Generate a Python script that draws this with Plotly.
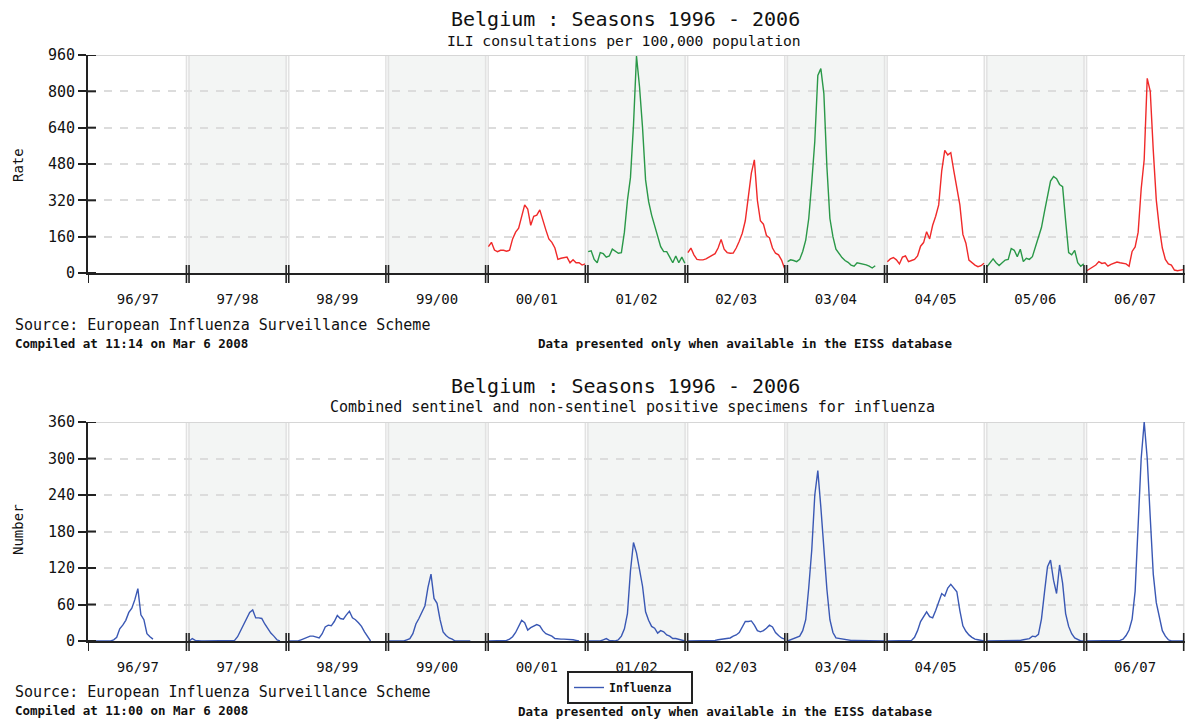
import plotly.graph_objects as go

# ---------------- data ----------------
seasons = ["96/97", "97/98", "98/99", "99/00", "00/01", "01/02",
           "02/03", "03/04", "04/05", "05/06", "06/07"]
WEEKS = 33  # weeks 40 .. 20 of each season

# ILI consultations per 100,000 (top chart), per season
ili_0001 = [116, 135, 101, 94, 100, 100, 96, 100, 150, 180, 197, 245, 300, 282, 210, 250, 255,
            278, 230, 190, 150, 135, 110, 60, 65, 66, 70, 45, 58, 45, 45, 35, 40]
ili_0102 = [94, 98, 60, 45, 90, 85, 70, 75, 105, 95, 87, 90, 180, 320, 420, 650, 955, 820,
            640, 410, 315, 255, 210, 165, 116, 94, 94, 70, 45, 75, 45, 70, 43]
ili_0203 = [90, 110, 80, 60, 58, 58, 62, 72, 78, 85, 110, 148, 105, 90, 87, 88, 110, 140,
            175, 230, 330, 440, 498, 320, 230, 215, 165, 155, 110, 87, 80, 57, 20]
ili_0304 = [50, 58, 55, 50, 60, 95, 145, 240, 400, 580, 870, 900, 790, 468, 240, 160, 105,
            85, 68, 55, 47, 35, 30, 45, 42, 40, 36, 30, 22, 32]
ili_0405 = [50, 62, 68, 58, 40, 70, 75, 50, 55, 60, 75, 118, 134, 182, 150, 210, 250, 300,
            450, 540, 520, 530, 450, 380, 300, 170, 131, 57, 45, 35, 28, 32, 43]
ili_0506 = [28, 43, 62, 45, 33, 45, 57, 60, 108, 100, 72, 105, 50, 65, 60, 72, 115, 150,
            200, 270, 336, 405, 425, 415, 390, 380, 230, 90, 80, 100, 45, 30, 40]
ili_0607 = [10, 18, 25, 35, 50, 42, 45, 30, 38, 42, 48, 45, 42, 40, 30, 95, 115, 180, 370,
            500, 857, 800, 540, 321, 200, 110, 60, 40, 35, 13, 10, 14, 15]
ili_labels = ["00/01", "01/02", "02/03", "03/04", "04/05", "05/06", "06/07"]
ili_series = [ili_0001, ili_0102, ili_0203, ili_0304, ili_0405, ili_0506, ili_0607]
ili_colors = ["#f02a2a", "#2a9848", "#f02a2a", "#2a9848", "#f02a2a", "#2a9848", "#f02a2a"]

# positive specimens for influenza (bottom chart), per season
flu_9697 = [0, 0, 0, 0, 0, 0, 0, 0, 2, 6, 20, 26, 34, 47, 54, 68, 86, 43, 35, 12, 7, 3]
flu_9798 = [0, 4, 1, 0, 0, 0, 0, 0, 0, 0, 0, 0, 0, 0, 0, 1, 7, 17, 26, 37, 47, 51, 38, 38,
            37, 28, 20, 13, 8, 2, 0]
flu_9899 = [0, 0, 0, 0, 2, 4, 6, 8, 8, 7, 5, 12, 23, 26, 25, 32, 42, 37, 36, 43, 49, 38, 35,
            30, 24, 15, 7, 0]
flu_9900 = [0, 0, 0, 0, 0, 0, 2, 4, 12, 28, 37, 47, 58, 88, 110, 70, 62, 35, 15, 9, 5, 3, 0,
            0, 0, 0, 0, 0]
flu_0001 = [0, 0, 0, 1, 1, 1, 1, 3, 7, 14, 25, 34, 30, 18, 22, 24, 27, 25, 17, 12, 10, 8, 4,
            3, 3, 3, 3, 2, 2, 1, 0]
flu_0102 = [0, 0, 0, 0, 0, 2, 4, 1, 0, 0, 2, 8, 20, 45, 115, 162, 145, 118, 90, 48, 34, 24,
            21, 13, 17, 15, 10, 8, 4, 4, 3, 1, 0]
flu_0203 = [0, 0, 0, 0, 0, 0, 0, 0, 0, 1, 2, 3, 4, 4, 5, 8, 10, 14, 22, 32, 32, 33, 26, 17,
            15, 17, 21, 26, 23, 14, 9, 5, 3]
flu_0304 = [0, 2, 4, 6, 8, 17, 35, 88, 150, 240, 280, 220, 150, 85, 35, 14, 5, 4, 3, 3, 2,
            1, 1, 1, 1, 1, 0, 0, 0, 0, 0, 0, 0]
flu_0405 = [0, 0, 0, 0, 0, 0, 1, 1, 1, 6, 17, 32, 40, 48, 40, 38, 50, 63, 78, 74, 87, 93, 86,
            81, 50, 25, 16, 10, 6, 3, 2, 1, 0]
flu_0506 = [0, 0, 0, 0, 0, 0, 0, 0, 0, 0, 0, 1, 2, 3, 4, 8, 7, 11, 36, 80, 122, 133, 100, 78,
            125, 95, 45, 24, 12, 5, 2, 0, 0]
flu_0607 = [0, 0, 0, 0, 0, 1, 0, 0, 1, 1, 1, 1, 3, 9, 18, 36, 82, 180, 300, 360, 300, 203,
            110, 63, 37, 17, 8, 2, 0, 0, 0, 0, 0]
flu_series = [flu_9697, flu_9798, flu_9899, flu_9900, flu_0001, flu_0102, flu_0203,
              flu_0304, flu_0405, flu_0506, flu_0607]

ili_ticks = [0, 160, 320, 480, 640, 800, 960]
flu_ticks = [0, 60, 120, 180, 240, 300, 360]
shaded = ["97/98", "99/00", "01/02", "03/04", "05/06"]

# ---------------- layout geometry (pixels) ----------------
W, H = 1194, 720
PX0, PX1 = 88, 1185
TOP = (55, 273)
BOT = (422, 641)
FONT = "DejaVu Sans Mono"
INK = "#222222"


def fy(p):
    return 1 - p / H


def fx(p):
    return p / W


week_px = (PX1 - PX0) / (len(seasons) * WEEKS)
off = 1.3 / week_px  # half gap of the double boundary lines, in x units

fig = go.Figure()

for lab, vals, col in zip(ili_labels, ili_series, ili_colors):
    s = seasons.index(lab)
    xs = [s * WEEKS + k + 0.5 for k in range(len(vals))]
    fig.add_trace(go.Scatter(x=xs, y=vals, mode="lines", xaxis="x", yaxis="y",
                             line=dict(color=col, width=1.4), showlegend=False,
                             hoverinfo="skip"))

bx, by = [], []
for s, vals in enumerate(flu_series):
    bx += [s * WEEKS + k + 0.5 for k in range(len(vals))] + [None]
    by += list(vals) + [None]
fig.add_trace(go.Scatter(x=bx, y=by, mode="lines", xaxis="x2", yaxis="y2",
                         line=dict(color="#3a58b4", width=1.4),
                         name="<b>Influenza</b>&nbsp;&nbsp;",
                         showlegend=True, hoverinfo="skip", connectgaps=False))

centers = [s * WEEKS + WEEKS / 2 for s in range(len(seasons))]
xr = [0, len(seasons) * WEEKS]

xcommon = dict(range=xr, tickvals=centers, ticktext=seasons, ticks="outside",
               ticklen=12, tickcolor="rgba(0,0,0,0)", showgrid=False, showline=True,
               linecolor=INK, linewidth=2, zeroline=False, fixedrange=True,
               automargin=False,
               tickfont=dict(family=FONT, size=14, color="#111"),
               domain=[fx(PX0), fx(PX1)])
ycommon = dict(ticks="outside", ticklen=8, tickwidth=2, tickcolor=INK, showline=True,
               linecolor=INK, linewidth=2, zeroline=False, showgrid=True,
               gridcolor="#dcdcdc", gridwidth=1.5, griddash="8px,8px", fixedrange=True,
               automargin=False,
               tickfont=dict(family=FONT, size=15, color="#111"))

fig.update_layout(
    width=W, height=H, autosize=False,
    margin=dict(l=0, r=0, t=0, b=0, pad=0, autoexpand=False),
    paper_bgcolor="white", plot_bgcolor="white",
    xaxis=dict(anchor="y", **xcommon),
    yaxis=dict(anchor="x", range=[0, 960], tickvals=ili_ticks,
               domain=[fy(TOP[1]), fy(TOP[0])], **ycommon),
    xaxis2=dict(anchor="y2", **xcommon),
    yaxis2=dict(anchor="x2", range=[0, 360], tickvals=flu_ticks,
                domain=[fy(BOT[1]), fy(BOT[0])], **ycommon),
    legend=dict(x=fx(567), y=fy(671), xanchor="left", yanchor="top",
                bordercolor=INK, borderwidth=2, bgcolor="white",
                font=dict(family=FONT, size=11.5, color="#111"),
                itemwidth=30, tracegroupgap=0),
)

shapes = []
for xa, ya, ymax, (ptop, pbot) in (("x", "y", 960, TOP), ("x2", "y2", 360, BOT)):
    # shaded seasons
    for lab in shaded:
        s = seasons.index(lab)
        shapes.append(dict(type="rect", xref=xa, yref=ya, x0=s * WEEKS, x1=(s + 1) * WEEKS,
                           y0=0, y1=ymax, fillcolor="#f3f5f4", line=dict(width=0),
                           layer="below"))
    # light double boundary lines + black double ticks on axis
    for b in range(1, len(seasons) + 1):
        for d in (-off, off):
            shapes.append(dict(type="line", xref=xa, yref=ya, x0=b * WEEKS + d,
                               x1=b * WEEKS + d, y0=0, y1=ymax,
                               line=dict(color="#e2e2e2", width=1.5), layer="below"))
            shapes.append(dict(type="line", xref=xa, yref="paper", x0=b * WEEKS + d,
                               x1=b * WEEKS + d, y0=fy(pbot - 8), y1=fy(pbot + 10),
                               line=dict(color=INK, width=1.6), layer="above"))
    # top border
    shapes.append(dict(type="line", xref=xa, yref=ya, x0=0, x1=xr[1], y0=ymax, y1=ymax,
                       line=dict(color="#d6d6d6", width=2), layer="below"))
    # y axis extending below x axis
    shapes.append(dict(type="line", xref=xa, yref="paper", x0=0, x1=0, y0=fy(pbot),
                       y1=fy(pbot + 10), line=dict(color=INK, width=2)))

# inner half of y ticks
for xa, ya, ticks in (("x", "y", ili_ticks), ("x2", "y2", flu_ticks)):
    for t in ticks:
        shapes.append(dict(type="line", xref=xa + " domain", yref=ya, x0=0,
                           x1=8 / (PX1 - PX0), y0=t, y1=t, line=dict(color=INK, width=2)))
fig.update_layout(shapes=shapes)


def ann(text, x, y, size, xanchor="center", bold=False, angle=0):
    if bold:
        text = "<b>" + text + "</b>"
    fig.add_annotation(text=text, x=fx(x), y=fy(y), xref="paper", yref="paper",
                       xanchor=xanchor, yanchor="middle", showarrow=False,
                       textangle=angle, font=dict(family=FONT, size=size, color="#111"))


ann("Belgium : Seasons 1996 - 2006", 625, 19, 20)
ann("ILI consultations per 100,000 population", 624, 40, 14.7)
ann("Rate", 18, 165, 14, angle=-90)
ann("Source: European Influenza Surveillance Scheme", 13, 325, 15, xanchor="left")
ann("Compiled at 11:14 on Mar 6 2008", 13, 343, 12.5, xanchor="left", bold=True)
ann("Data presented only when available in the EISS database", 745, 343, 12.5, bold=True)

ann("Belgium : Seasons 1996 - 2006", 625, 386, 20)
ann("Combined sentinel and non-sentinel positive specimens for influenza", 632, 407, 15)
ann("Number", 18, 530, 14, angle=-90)
ann("Source: European Influenza Surveillance Scheme", 13, 692, 15, xanchor="left")
ann("Compiled at 11:00 on Mar 6 2008", 13, 710, 12.5, xanchor="left", bold=True)
ann("Data presented only when available in the EISS database", 725, 711, 12.5, bold=True)

fig.write_html("out.html")
